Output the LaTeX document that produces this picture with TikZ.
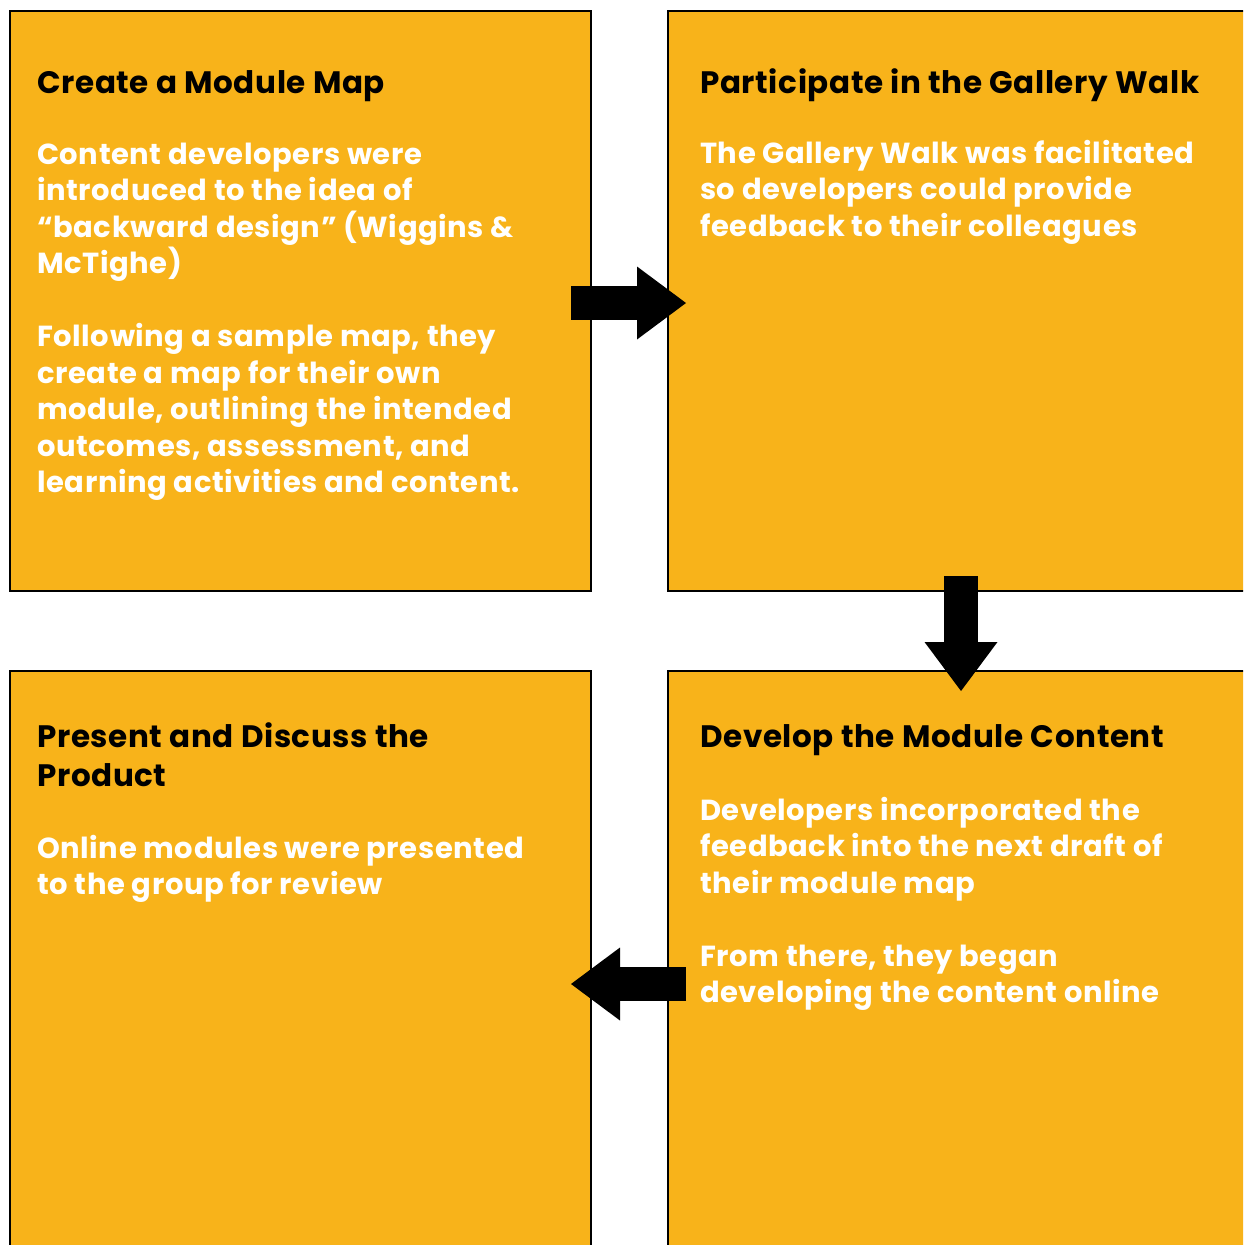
\documentclass[tikz,border=0pt]{standalone}
\usepackage{fontspec}
\setmainfont{Poppins}[LetterSpace=2]
\usetikzlibrary{arrows.meta}
\definecolor{boxfill}{HTML}{F8B31A}
\begin{document}
\begin{tikzpicture}[x=1pt,y=-1pt,
  box/.style={draw=black, line width=2pt, fill=boxfill, inner sep=0pt, anchor=north west, minimum height=580pt},
  ttl/.style={anchor=base west, inner sep=0pt, font=\bfseries\fontsize{31}{39}\selectfont, text=black},
  bdy/.style={anchor=base west, inner sep=0pt, font=\bfseries\fontsize{29}{36.5}\selectfont, text=white},
  flow/.style={line width=34pt, draw=black, -{Triangle[length=49pt,width=73pt,line width=0pt]}}]
\useasboundingbox (0,0) rectangle (1243,1245);
\clip (0,0) rectangle (1243,1245);
\node[box, minimum width=581pt] (tl) at (9,10) {};
\node[box, minimum width=586pt] (tr) at (667,10) {};
\node[box, minimum width=581pt, minimum height=590pt] (bl) at (9,670) {};
\node[box, minimum width=586pt, minimum height=590pt] (br) at (667,670) {};

\node[ttl] (tlh) at (37,93) {Create a Module Map};
\node[bdy] (tlb) at (37,164) {\vtop{\baselineskip=36.5pt
  \hbox{Content developers were}
  \hbox{introduced to the idea of}
  \hbox{“backward design” (Wiggins \&}
  \hbox{McTighe)}
  \hbox{}
  \hbox{Following a sample map, they}
  \hbox{create a map for their own}
  \hbox{module, outlining the intended}
  \hbox{outcomes, assessment, and}
  \hbox{learning activities and content.}}};

\node[ttl] (trh) at (700,93) {Participate in the Gallery Walk};
\node[bdy] (trb) at (700,163) {\vtop{\baselineskip=36.5pt
  \hbox{The Gallery Walk was facilitated}
  \hbox{so developers could provide}
  \hbox{feedback to their colleagues}}};

\node[ttl] (blh) at (37,747) {\vtop{\baselineskip=39pt
  \hbox{Present and Discuss the}
  \hbox{Product}}};
\node[bdy] (blb) at (37,858) {\vtop{\baselineskip=36.5pt
  \hbox{Online modules were presented}
  \hbox{to the group for review}}};

\node[ttl] (brh) at (700,747) {Develop the Module Content};
\node[bdy] (brb) at (700,820) {\vtop{\baselineskip=36.5pt
  \hbox{Developers incorporated the}
  \hbox{feedback into the next draft of}
  \hbox{their module map}
  \hbox{}
  \hbox{From there, they began}
  \hbox{developing the content online}}};

\draw[flow] ([xshift=-21pt,yshift=-2pt]tl.east) -- ([xshift=19pt,yshift=-2pt]tr.west);
\draw[flow] ([yshift=16pt]tr.south) -- ([yshift=-21pt]br.north);
\draw[flow] ([xshift=19pt,yshift=-18pt]br.west) -- ([xshift=-21pt,yshift=-18pt]bl.east);
\end{tikzpicture}
\end{document}
